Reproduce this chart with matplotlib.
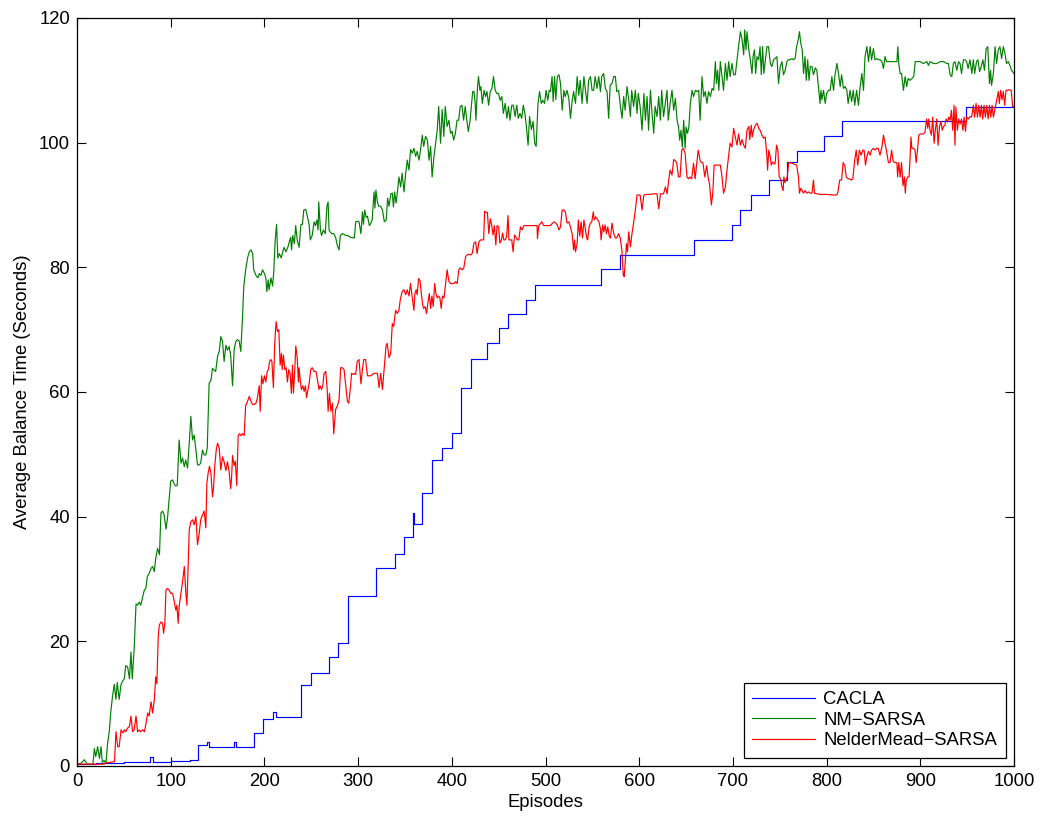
import matplotlib
matplotlib.use("Agg")
import matplotlib.pyplot as plt

plt.rcParams['font.family'] = ['Liberation Sans', 'DejaVu Sans']

# ---------------- data (episode, average balance time) ----------------
series_labels = ["CACLA", "NM\u2212SARSA", "NelderMead\u2212SARSA"]
series_colors = ["#0000ff", "#008000", "#ff0000"]

x_ticks = [0, 100, 200, 300, 400, 500, 600, 700, 800, 900, 1000]
y_ticks = [0, 20, 40, 60, 80, 100, 120]

# CACLA: step-like curve (value holds until the next episode listed)
cacla = [
    (0, 0.4), (20, 0.5), (50, 0.6), (78, 1.5), (81, 0.6), (100, 0.8), (121, 0.9),
    (129, 3.3), (139, 3.8), (141, 3.1), (168, 3.9), (170, 3.1), (189, 5.3),
    (199, 7.5), (209, 8.6), (212, 7.8), (239, 13.0), (250, 15.0), (269, 17.5),
    (279, 19.8), (289, 27.3), (319, 31.8), (339, 34.0), (349, 36.7), (359, 40.6),
    (360, 38.8), (368, 43.8), (379, 49.1), (390, 51.0), (400, 53.4), (410, 60.6),
    (420, 65.3), (438, 67.9), (450, 70.3), (460, 72.5), (479, 74.8), (489, 77.2),
    (559, 79.7), (579, 82.0), (659, 84.4), (699, 86.8), (708, 89.2), (719, 91.6),
    (739, 94.0), (758, 96.9), (768, 98.7), (797, 101.1), (816, 103.5),
    (949, 105.8), (1000, 105.8),
]

nm_sarsa = [
    (0, 0.3), (4, 0.4), (7.8, 1.0), (11, 0.3), (17, 0.3), (18.5, 2.8), (20, 1.5), (22, 3.1),
    (24, 1.2), (25.6, 3.1), (27, 0.6), (29, 0.9), (30.9, 0.4), (32.7, 3.7), (34.5, 5.6),
    (36, 8.6), (38, 11.3), (39.8, 13.1), (41.5, 10.7), (43, 13.4), (45, 10.7), (47, 13.1),
    (49, 13.7), (50.5, 14.0), (52, 16.1), (54, 15.9), (56, 14.0), (57.6, 18.3), (59, 14.0),
    (61, 18.8), (63, 26.0), (64.7, 25.8), (66.5, 26.3), (68, 25.8), (70, 27.1), (71.8, 28.2),
    (73.5, 28.5), (75, 30.4), (77, 30.9), (79, 31.7), (80.7, 32.0), (82.5, 31.2), (84, 33.3),
    (86, 34.9), (88, 33.9), (89.6, 40.6), (91.3, 40.9), (93, 40.3), (95, 38.0), (96.6, 39.8),
    (98.4, 43.0), (100, 45.7), (102, 45.9), (103.8, 45.2), (105.5, 44.9), (107, 45.1),
    (109, 52.3), (111, 48.6), (112.7, 49.4), (114.5, 48.0), (116, 49.1), (118, 47.8),
    (119.8, 51.8), (121.5, 56.1), (123.3, 52.3), (125, 53.1), (126.9, 50.7), (128.6, 48.3),
    (130.4, 48.3), (132, 48.6), (134, 50.7), (135.7, 49.9), (137.5, 49.9), (139, 51.0),
    (141, 61.4), (143, 61.9), (144.6, 63.8), (146.4, 63.5), (148, 63.3), (150, 65.7),
    (151.8, 66.5), (153.5, 68.9), (155.3, 68.1), (157, 64.9), (158.9, 67.5), (160.6, 66.7),
    (162.4, 67.3), (164, 65.9), (166, 61.0), (167.7, 66.8), (169.5, 68.1), (171, 68.4),
    (173, 68.2), (174.8, 66.5), (176.6, 71.9), (178, 77.0), (180, 79.6), (182, 81.5),
    (183.9, 82.5), (185.7, 82.8), (187.5, 82.2), (188.6, 79.6), (191, 78.7), (193, 78.3),
    (194.5, 79.0), (196.3, 78.7), (198, 79.6), (200, 79.0), (201.5, 78.3), (202.6, 76.1),
    (204, 78.0), (205, 76.4), (207, 78.3), (208.7, 77.0), (210, 79.3), (211.4, 84.1),
    (213, 86.9), (214.3, 81.5), (216, 82.2), (218, 81.5), (219.6, 82.5), (221, 83.2),
    (223, 82.5), (225, 83.2), (226.6, 84.1), (228, 84.8), (229, 82.8), (230.2, 85.1),
    (232, 83.8), (233.4, 86.7), (235, 84.4), (237, 83.2), (239, 86.9), (240.6, 86.9),
    (242, 89.2), (244, 89.3), (245.8, 88.2), (247.7, 86.9), (249, 84.4), (251, 85.1),
    (253, 87.3), (254.5, 86.7), (256, 87.6), (257.3, 86.0), (258, 90.5), (259.8, 86.0),
    (261, 85.1), (263, 86.0), (265, 85.4), (266.7, 89.8), (268, 90.5), (269, 86.0),
    (270, 85.7), (272, 85.4), (274, 85.4), (276, 84.8), (277.8, 83.5), (279.7, 82.8),
    (281, 85.1), (283, 85.4), (285, 85.3), (287, 85.1), (289, 85.1), (292, 84.8),
    (296, 84.7), (297.5, 87.3), (299, 87.4), (301, 87.3), (303, 85.4), (304.6, 88.9),
    (305.7, 86.9), (307, 89.2), (308.6, 88.0), (310, 88.2), (312, 86.7), (313, 86.9),
    (315, 87.6), (317, 92.1), (318, 89.5), (319, 92.4), (320.6, 90.5), (322, 89.8),
    (324, 89.8), (326, 89.2), (328, 87.3), (330, 87.6), (331.5, 91.1), (333, 89.8),
    (335, 91.8), (336.5, 91.9), (337.7, 89.7), (339, 92.1), (340.5, 90.3), (342, 92.1),
    (343.6, 94.5), (345.4, 92.9), (347, 95.1), (349, 92.1), (350.8, 95.1), (352.5, 97.2),
    (354.3, 95.6), (356, 98.9), (357.8, 98.3), (359.6, 99.1), (361.4, 97.8), (363, 98.6),
    (365, 97.2), (366.7, 98.9), (368.5, 101.2), (370, 99.4), (372, 101.0), (374, 100.4),
    (375.7, 97.2), (377.4, 99.4), (379, 94.5), (381, 97.8), (382.7, 99.9), (384.5, 102.1),
    (386, 105.8), (388, 99.9), (389.7, 105.3), (391.5, 101.0), (393, 105.8), (395, 102.6),
    (396.9, 103.6), (398.7, 101.5), (400.4, 101.8), (402, 100.4), (403.8, 101.5),
    (405.6, 103.6), (407.3, 103.6), (409, 105.8), (410.8, 106.0), (412.6, 103.6),
    (414.3, 105.8), (416, 103.6), (417.6, 101.8), (419.4, 103.4), (421, 106.0),
    (422.3, 108.2), (423.7, 108.2), (425, 106.3), (425.7, 103.6), (427.5, 109.0),
    (428.5, 110.6), (430, 108.4), (431, 109.0), (432.6, 106.3), (434.4, 108.4),
    (436, 107.4), (437.5, 108.2), (439.3, 106.0), (441, 108.2), (442.8, 108.7),
    (444.5, 110.6), (446.3, 108.4), (448, 107.9), (449.8, 107.9), (451.6, 106.8),
    (453.4, 107.4), (455, 104.7), (457, 106.3), (458.8, 103.9), (460.5, 105.8),
    (462, 103.6), (464, 106.0), (465.7, 106.0), (467.5, 104.2), (469.3, 106.0),
    (471, 103.9), (472.8, 104.7), (474.6, 103.9), (476.3, 106.0), (478, 104.7),
    (479.6, 102.6), (481.4, 99.6), (483, 104.2), (485, 102.1), (486.7, 103.4),
    (488.5, 99.9), (490, 99.4), (492, 106.3), (493.7, 108.2), (495.5, 106.3),
    (497, 106.8), (499, 106.3), (500.6, 108.4), (502.4, 106.8), (504, 108.4),
    (505.3, 108.2), (507, 110.6), (508.2, 106.6), (509.6, 110.6), (511, 106.9),
    (512.6, 110.6), (514.4, 110.9), (516, 109.5), (517.8, 105.2), (519.6, 108.4),
    (521, 107.4), (523, 108.4), (524.9, 107.1), (526.6, 103.9), (528.4, 106.6),
    (530, 108.2), (532, 106.3), (533.8, 110.6), (535.5, 107.6), (537, 110.0),
    (539, 106.3), (541, 110.6), (542.6, 108.4), (544.4, 106.3), (546, 110.0),
    (548, 110.6), (549.7, 108.4), (551.4, 108.4), (553, 110.6), (555, 108.7),
    (556.8, 110.6), (558.6, 108.2), (560, 110.6), (562, 111.1), (563.9, 108.7),
    (565.7, 108.2), (567.4, 103.9), (569, 109.2), (571, 109.5), (572.8, 110.6),
    (574.6, 110.6), (576, 108.2), (578, 108.4), (580, 105.8), (581.7, 103.9),
    (583.4, 107.4), (585, 105.2), (587, 109.0), (588.8, 106.9), (590.6, 104.2),
    (592, 108.4), (594, 105.8), (595.9, 108.4), (597.7, 104.7), (599, 107.9),
    (601, 105.8), (603, 102.0), (605, 107.9), (606.6, 103.6), (608.4, 107.4),
    (610, 102.0), (612, 108.4), (613.7, 104.7), (615.5, 101.5), (617, 105.8),
    (619, 104.2), (620.8, 107.4), (622.6, 103.6), (624, 108.4), (626, 104.2),
    (627.9, 106.3), (629.7, 108.4), (631, 103.6), (633, 106.3), (635, 108.4),
    (636.8, 105.2), (638.6, 107.1), (640.4, 103.6), (642, 102.5), (643.2, 100.4),
    (644.6, 102.0), (646, 99.3), (647.5, 103.6), (649, 99.1), (650, 102.5),
    (651.5, 101.5), (653, 102.5), (654.6, 106.3), (656.4, 108.4), (658, 107.4),
    (660, 108.4), (661.7, 108.2), (663.5, 108.4), (665, 103.6), (667, 110.6),
    (668.8, 107.4), (670.5, 108.2), (672.3, 106.3), (674, 108.2), (676, 107.4),
    (677.8, 108.7), (679.5, 108.4), (681.3, 113.0), (682.4, 109.5), (683.7, 111.6),
    (685, 108.4), (686.6, 113.0), (688.4, 110.6), (690, 108.4), (692, 112.7),
    (693.7, 110.0), (695.5, 113.0), (697, 110.6), (699, 112.7), (700.8, 110.9),
    (702.6, 110.9), (704.4, 113.3), (706, 115.4), (708, 117.8), (709.8, 116.5),
    (711.5, 114.1), (712.6, 118.1), (714, 114.9), (715, 117.8), (717, 114.9),
    (718.6, 113.3), (720.4, 111.1), (721.5, 113.8), (723, 114.9), (724.3, 111.1),
    (725.7, 113.8), (727.5, 113.3), (729, 115.4), (730.3, 110.9), (731.7, 115.4),
    (733, 111.1), (734.8, 113.5), (736.3, 115.4), (738, 115.4), (740, 112.7),
    (741.6, 112.2), (743.4, 113.3), (745, 113.5), (747, 113.8), (748.7, 109.5),
    (750.5, 112.2), (752.3, 113.0), (754, 110.9), (755.8, 111.6), (757.6, 113.0),
    (759, 113.3), (761, 113.3), (763, 113.5), (764.6, 113.3), (766.4, 113.5),
    (768, 115.4), (770, 116.7), (771, 117.8), (772.5, 115.9), (774, 114.9),
    (775.4, 111.1), (777, 113.8), (778.3, 110.0), (779.8, 113.3), (781.2, 110.0),
    (782.6, 112.2), (784.4, 112.2), (786, 110.9), (788, 112.0), (789.6, 111.6),
    (791.4, 108.7), (793, 106.3), (794, 108.4), (795, 106.9), (796.7, 108.4),
    (798.5, 106.3), (800, 107.9), (802, 108.4), (803.8, 108.4), (805.6, 110.6),
    (807.4, 108.4), (809, 110.9), (811, 112.7), (812.7, 111.1), (814.5, 109.0),
    (816, 110.9), (818, 108.7), (819.8, 109.0), (821.6, 108.4), (823, 106.3),
    (825, 108.4), (826.7, 106.6), (828.5, 108.4), (830, 106.0), (832, 108.4),
    (834, 106.0), (835.8, 109.0), (837.6, 111.1), (839.4, 108.4), (841, 113.8),
    (843, 115.4), (844.7, 113.0), (846.5, 115.4), (848, 113.3), (850, 115.1),
    (851.6, 113.3), (853.6, 113.5), (855.5, 113.3), (857, 113.3), (859, 113.0),
    (860.7, 111.9), (862.4, 113.8), (864, 113.0), (867.8, 113.0), (871.4, 113.0),
    (875, 113.0), (876, 115.4), (877, 112.7), (878.5, 111.1), (880, 111.1),
    (882, 108.4), (883.8, 110.6), (885.5, 109.0), (887, 110.3), (889, 110.0),
    (891, 110.3), (893, 110.6), (894.6, 113.0), (896.4, 113.0), (899.7, 113.0),
    (903.4, 112.7), (907, 113.0), (908.7, 112.4), (910.4, 113.0), (914, 112.7),
    (917.6, 112.7), (921, 113.0), (924.7, 113.0), (928.4, 112.7), (930, 112.7),
    (931.8, 110.9), (933.6, 110.6), (935.3, 112.7), (937, 113.0), (939, 111.6),
    (940.7, 113.0), (942.4, 112.7), (944, 111.1), (946, 113.3), (947.7, 113.3),
    (949.5, 113.0), (951, 111.9), (953, 113.3), (955, 111.1), (956.6, 113.3),
    (958, 111.1), (960, 113.0), (961.5, 113.3), (963.3, 111.4), (965, 112.2),
    (966.8, 113.3), (968.5, 111.6), (970.3, 115.1), (972, 115.4), (973.8, 109.5),
    (975, 111.6), (976, 109.2), (978, 111.1), (979.8, 115.4), (981.4, 112.7),
    (983.2, 114.9), (985, 115.4), (986.8, 113.5), (988.6, 115.4), (990.4, 114.3),
    (992, 112.7), (993.8, 113.0), (995.6, 112.4), (997.4, 111.6), (1000, 111.1),
]

neldermead_sarsa = [
    (0, 0.3), (10, 0.3), (20, 0.3), (29, 0.3), (31, 0.5), (40, 0.7), (41.6, 5.5),
    (43.4, 3.1), (45, 3.1), (47, 5.8), (49, 5.3), (50.5, 5.8), (52, 5.5), (54, 6.1),
    (56, 6.3), (57.6, 8.0), (59.4, 5.5), (61, 5.8), (63, 8.0), (64.7, 5.5), (66.5, 5.8),
    (68, 5.5), (70, 5.8), (72, 5.5), (73.6, 6.8), (75.4, 8.5), (77, 8.0), (79, 10.3),
    (80.7, 8.5), (82.5, 10.6), (84, 14.3), (85.2, 13.2), (86.7, 20.7), (87.8, 22.6),
    (89.6, 23.1), (91.3, 22.9), (92.4, 21.3), (93.8, 22.9), (94.9, 28.2), (96.6, 28.5),
    (98.4, 28.2), (100, 27.7), (102, 27.7), (103.8, 26.4), (105.5, 25.0), (106.6, 25.8),
    (108, 22.9), (109, 25.6), (111, 27.7), (112.7, 29.6), (114.5, 32.0), (116.2, 27.7),
    (117.3, 25.8), (118.7, 32.5), (119.8, 37.9), (121.5, 39.2), (123.3, 39.5),
    (125, 38.7), (126.9, 40.0), (128.6, 35.5), (130.4, 37.3), (132, 39.5), (134, 40.3),
    (135.7, 40.9), (137.5, 38.2), (138.6, 45.4), (140, 47.0), (141.4, 48.1),
    (142.9, 47.0), (144.6, 43.2), (145.7, 44.6), (147, 48.1), (148.6, 50.7),
    (150, 51.8), (151.8, 51.0), (153.5, 47.5), (155.3, 49.6), (157, 48.8),
    (158.9, 47.4), (160.6, 48.8), (162.4, 47.2), (164, 44.5), (165, 46.3), (166, 49.8),
    (167.7, 48.2), (169, 48.9), (170.5, 45.0), (172, 53.0), (173.5, 53.3), (175, 53.0),
    (176.6, 53.3), (178.4, 53.0), (180, 57.8), (182, 58.5), (183.9, 59.3),
    (185.7, 58.5), (187.3, 58.0), (189, 58.0), (191, 58.2), (192.6, 59.1),
    (194.5, 61.0), (195.5, 56.9), (197, 62.6), (198.4, 61.3), (200, 62.6),
    (201.5, 61.6), (203, 63.3), (204.3, 63.6), (205.5, 64.9), (207, 65.2), (208, 64.9),
    (209.6, 60.7), (211, 67.8), (212.5, 71.3), (213.9, 69.7), (215.4, 70.0),
    (216.8, 64.3), (218.2, 66.2), (219, 63.6), (220.3, 65.9), (221.8, 63.6),
    (223.2, 63.9), (224.6, 61.6), (226, 63.6), (227.4, 63.0), (228.8, 59.8),
    (229.9, 64.3), (231, 59.8), (232.5, 63.9), (233.5, 67.4), (235, 65.5),
    (236.3, 61.6), (237, 63.9), (238.4, 61.6), (239.5, 60.4), (241, 61.0),
    (242.4, 60.1), (243.8, 61.0), (245, 59.1), (246.6, 60.4), (248, 61.6),
    (249.4, 63.6), (251, 63.9), (253, 63.3), (255, 63.3), (256.6, 62.0),
    (258.3, 60.4), (259.3, 61.0), (261, 60.4), (262.3, 61.0), (263.7, 63.0),
    (265.5, 63.3), (267, 60.4), (268, 56.9), (269.4, 59.8), (271, 56.9),
    (272.6, 58.2), (274, 53.3), (276, 57.2), (278, 57.8), (279.7, 58.8),
    (281.4, 63.9), (283, 63.9), (285, 63.6), (286.8, 61.0), (288.6, 58.5),
    (290, 58.2), (292, 61.0), (293, 63.0), (294.4, 62.8), (295.6, 63.0),
    (297.4, 62.8), (299, 64.9), (301, 65.2), (303, 61.3), (304.6, 63.6), (306, 65.2),
    (308, 65.2), (310, 62.6), (313.5, 62.6), (317, 63.0), (320.6, 63.0),
    (322.4, 60.7), (324, 63.0), (326, 60.4), (327.6, 63.3), (328.7, 65.2),
    (329.8, 67.4), (331, 67.8), (333, 65.5), (334.8, 66.2), (336.5, 71.0),
    (338, 70.5), (340, 73.1), (341.9, 72.6), (343.6, 73.1), (345, 74.8), (347, 76.1),
    (349, 76.4), (350.8, 75.6), (352.5, 76.4), (354.3, 75.4), (356, 77.4),
    (357.8, 75.1), (359.6, 73.1), (360.6, 75.8), (362, 76.4), (363, 75.6),
    (364.6, 78.2), (366, 77.9), (367.5, 75.8), (369, 73.9), (370, 73.4),
    (371.6, 73.7), (373, 72.6), (374.5, 74.3), (376, 75.8), (377.4, 73.4),
    (378.8, 75.4), (380.2, 73.7), (381.7, 77.4), (383, 75.8), (384.5, 75.1),
    (386, 75.4), (387.3, 75.1), (388.7, 73.4), (390, 75.4), (391.7, 75.1),
    (393.4, 77.4), (395, 79.6), (397, 77.7), (398.7, 77.4), (400.5, 77.4),
    (402.2, 77.4), (404, 77.7), (405.7, 77.4), (407.5, 79.6), (409, 79.9),
    (411, 79.6), (412.8, 79.9), (414.7, 81.7), (416.4, 82.0), (418, 82.1),
    (420, 82.0), (421.8, 82.2), (423.6, 83.9), (425.4, 84.1), (427, 82.2),
    (429, 84.1), (430.7, 84.4), (432.4, 84.4), (434, 84.4), (435, 89.0),
    (436.7, 88.8), (438, 88.8), (439.5, 85.4), (441, 87.8), (442.4, 86.9),
    (444, 85.2), (445.4, 86.7), (447, 83.6), (448.3, 86.7), (450, 86.5),
    (451.3, 83.9), (453, 84.4), (454.2, 85.5), (455.6, 84.4), (457, 84.4),
    (458.5, 84.9), (460, 88.3), (461, 84.4), (462.6, 84.4), (464, 84.4),
    (465.4, 82.5), (467, 85.2), (468.3, 84.9), (470, 84.4), (471.5, 84.4),
    (473.3, 86.5), (475, 86.0), (477, 86.7), (480.5, 86.7), (484, 86.7),
    (487.5, 86.7), (491, 86.7), (491.4, 84.6), (492.8, 86.7), (494.5, 87.0),
    (496, 87.3), (498, 86.7), (501.4, 86.7), (505, 86.7), (509, 87.3), (511, 87.1),
    (512.6, 86.8), (514.4, 86.0), (516, 86.5), (517.8, 89.2), (519.6, 89.2),
    (521.2, 88.9), (523, 87.1), (524.9, 87.3), (526.6, 86.5), (528.4, 85.4),
    (530, 82.8), (531, 84.4), (532, 82.5), (533.8, 83.8), (535, 87.6), (536.6, 85.0),
    (538, 87.3), (539.5, 84.7), (541, 87.6), (542.6, 86.0), (544, 84.7), (545, 84.4),
    (546.5, 86.5), (548, 87.1), (549.4, 87.3), (551, 88.9), (552, 87.6),
    (553.5, 88.1), (555, 87.8), (557, 87.3), (558.6, 86.2), (559.3, 84.4),
    (561, 86.8), (562.2, 85.7), (563.6, 86.8), (565, 85.4), (566.5, 86.5),
    (568, 85.0), (569.3, 84.7), (571, 87.1), (572.8, 85.4), (574.6, 84.7),
    (576, 84.7), (578, 85.4), (579.8, 84.7), (581.5, 82.8), (583, 78.8), (584, 78.5),
    (585, 80.6), (586.4, 83.8), (587.5, 82.5), (588.8, 85.7), (590.6, 83.3),
    (592.3, 85.4), (594, 87.1), (595.9, 89.2), (597.7, 91.6), (599.4, 91.6),
    (601, 91.6), (603, 89.2), (605, 91.6), (608, 91.7), (612, 91.7), (615.5, 91.8),
    (619, 91.8), (620.8, 89.4), (622.7, 91.8), (624.5, 91.8), (626, 91.8),
    (628, 92.9), (629.8, 91.8), (631.5, 94.0), (633, 95.6), (635, 94.8),
    (636.8, 97.3), (638.6, 97.1), (640, 96.8), (642, 94.5), (643.6, 94.5),
    (645.4, 98.8), (647, 99.1), (649, 98.3), (651, 94.5), (652.6, 94.2), (654, 94.5),
    (656, 94.2), (658, 96.7), (659.7, 94.2), (661.4, 96.7), (663, 98.8), (665, 97.1),
    (666.6, 96.8), (668, 96.8), (670, 94.5), (672, 96.3), (673.5, 94.5), (675, 93.4),
    (677, 90.0), (678.5, 91.8), (680, 96.4), (683, 96.4), (686.6, 96.4),
    (688.4, 94.5), (690, 91.9), (692, 92.9), (693.7, 95.6), (695.5, 98.0),
    (697, 99.9), (699, 99.3), (700.8, 102.3), (702.6, 100.9), (704.4, 99.6),
    (706, 101.4), (708, 99.6), (709.8, 100.5), (711.5, 99.6), (713.3, 99.1),
    (715, 102.0), (717, 102.6), (718, 100.5), (719.6, 102.8), (720.6, 100.9),
    (722, 102.0), (724, 102.8), (726, 103.1), (727.5, 102.3), (729, 102.0),
    (731, 101.2), (733, 100.7), (734.5, 100.9), (736.3, 97.8), (737, 95.6),
    (738.3, 98.8), (739.8, 97.8), (741, 96.4), (742.4, 96.9), (744, 96.6),
    (745, 96.6), (746.6, 99.6), (748, 98.8), (749.4, 94.5), (751, 94.2), (752, 93.1),
    (753.6, 92.3), (754.4, 94.5), (755.5, 93.6), (757, 94.2), (758, 94.5),
    (759.6, 96.8), (761, 96.8), (768, 96.4), (770, 94.5), (771, 91.9), (772.5, 92.7),
    (774, 92.3), (775.4, 91.9), (777, 92.3), (779, 91.9), (781, 92.1), (782.6, 91.9),
    (784.4, 91.9), (786, 94.0), (787, 91.9), (790, 91.8), (793, 91.7), (800, 91.7),
    (807, 91.6), (810.6, 91.6), (812, 92.0), (814, 94.0), (816, 94.0), (817.6, 96.8),
    (819.4, 96.3), (821, 94.5), (823, 94.2), (824.6, 94.2), (826.4, 94.0),
    (828, 94.2), (829.8, 97.0), (831.6, 98.8), (833.3, 96.4), (835, 98.8),
    (836.8, 98.0), (838.7, 98.8), (840, 98.8), (841.5, 96.4), (843, 97.8),
    (844.7, 98.6), (846.5, 98.0), (848, 98.8), (850, 99.1), (851.8, 98.8),
    (853.6, 99.1), (855, 99.1), (857, 98.0), (859, 99.3), (860.7, 101.2),
    (862.4, 99.9), (864, 98.6), (866, 96.8), (867.7, 96.8), (869.4, 98.8),
    (871, 97.0), (873, 96.8), (875, 96.8), (875.8, 94.5), (877, 96.8), (878.5, 94.5),
    (880, 96.8), (881.5, 93.1), (883, 94.5), (884, 91.9), (885, 94.0), (886.6, 94.5),
    (888, 94.5), (889, 97.2), (890, 100.9), (891, 99.1), (893, 99.1), (894.3, 98.8),
    (895.6, 96.8), (897, 98.8), (898.4, 101.2), (900, 101.4), (901.6, 101.4),
    (903.4, 101.4), (905, 101.7), (906.8, 103.8), (908, 102.3), (909, 103.8),
    (910.4, 102.0), (911.8, 101.2), (913.3, 104.1), (914.7, 99.9), (916, 102.0),
    (917.5, 103.8), (919, 99.6), (920.5, 102.6), (922, 103.4), (923.4, 102.0),
    (924.8, 102.6), (926.2, 102.8), (927.6, 103.8), (929, 103.3), (930.4, 104.1),
    (931.8, 103.6), (933.2, 105.2), (934.6, 102.0), (936, 106.0), (937, 99.6),
    (938, 105.7), (939.6, 102.0), (941, 103.8), (942.5, 103.0), (944, 103.8),
    (945.4, 102.0), (946.8, 104.1), (948.2, 101.8), (949.6, 104.1), (951.4, 103.8),
    (953, 104.2), (954.8, 104.1), (956.6, 106.0), (958, 104.1), (959.5, 106.3),
    (961, 104.1), (962.4, 106.0), (963.8, 104.1), (965.2, 106.0), (966.6, 103.8),
    (968, 106.0), (969.5, 104.1), (971, 106.0), (972.4, 103.8), (973.8, 106.0),
    (975.2, 104.1), (976.6, 106.0), (978, 104.1), (980, 105.7), (981.6, 106.9),
    (983.3, 108.2), (984.4, 106.3), (985.8, 108.4), (987.2, 106.9), (988.6, 108.2),
    (990, 106.0), (991.5, 108.4), (993, 108.4), (995, 108.5), (997, 108.4),
    (998.6, 105.8), (1000, 105.8),
]

# ---------------- figure ----------------
fig = plt.figure(figsize=(10.43, 8.17), dpi=100)
ax = fig.add_axes([77 / 1043, 51 / 817, 937 / 1043, 748 / 817])

lw = 0.85
cx, cy = zip(*cacla)
ax.plot(cx, cy, color=series_colors[0], lw=lw, drawstyle='steps-post', label=series_labels[0])
gx, gy = zip(*nm_sarsa)
ax.plot(gx, gy, color=series_colors[1], lw=lw, label=series_labels[1])
rx, ry = zip(*neldermead_sarsa)
ax.plot(rx, ry, color=series_colors[2], lw=lw, label=series_labels[2])

ax.set_xlim(0, 1000)
ax.set_ylim(0, 120)
ax.set_xticks(x_ticks)
ax.set_yticks(y_ticks)
ax.tick_params(direction='in', top=True, right=True, length=6.5, width=0.8,
               labelsize=13.3, pad=5)
for s in ax.spines.values():
    s.set_linewidth(0.9)

ax.set_xlabel("Episodes", fontsize=13.3, labelpad=3)
ax.set_ylabel("Average Balance Time (Seconds)", fontsize=13.3, labelpad=6)

leg = ax.legend(loc='lower right', fontsize=13.3, frameon=True, fancybox=False,
                edgecolor='black', framealpha=1, borderpad=0.45, labelspacing=0.2,
                handlelength=3.4, handletextpad=0.45, borderaxespad=0.45)
leg.get_frame().set_linewidth(0.9)

fig.savefig("out.png", dpi=100)
